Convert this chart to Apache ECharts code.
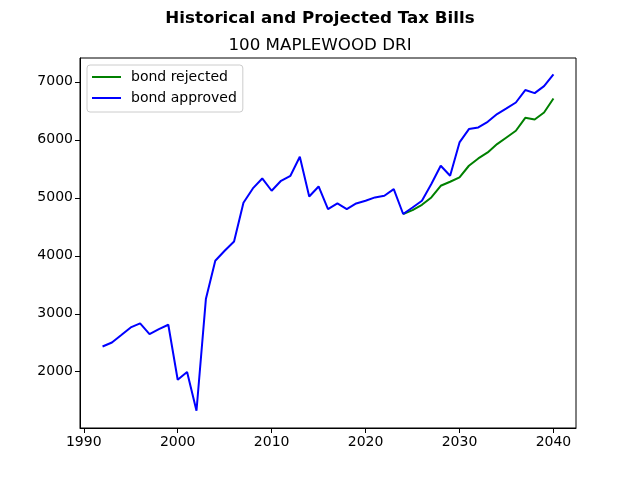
<!DOCTYPE html>
<html style="height: 100%">
<head>
<meta charset="utf-8">
<script src="https://cdn.jsdelivr.net/npm/echarts@6/dist/echarts.min.js"></script>
</head>
<body style="height: 100%; margin: 0">
<div id="container" style="width: 640px; height: 480px"></div>
<script type="text/javascript">
var approvedYears = [1992, 1993, 1994, 1995, 1996, 1997, 1998, 1999, 2000, 2001, 2002, 2003, 2004, 2005, 2006,
    2007, 2008, 2009, 2010, 2011, 2012, 2013, 2014, 2015, 2016, 2017, 2018, 2019, 2020, 2021, 2022, 2023,
    2024, 2025, 2026, 2027, 2028, 2029, 2030, 2031, 2032, 2033, 2034, 2035, 2036, 2037, 2038, 2039, 2040];
var approvedValues = [2436, 2505, 2633, 2764, 2833, 2650, 2736, 2810, 1862, 1994, 1328, 3253, 3914, 4086, 4247,
    4914, 5161, 5333, 5121, 5293, 5379, 5707, 5022, 5195, 4805, 4902, 4805, 4902, 4948, 5006, 5034, 5149,
    4720, 4833, 4948, 5236, 5552, 5379, 5954, 6184, 6213, 6310, 6443, 6540, 6643, 6857, 6805, 6925, 7126];
var rejectedYears = [2024, 2025, 2026, 2027, 2028, 2029, 2030, 2031, 2032, 2033, 2034, 2035, 2036, 2037, 2038, 2039, 2040];
var rejectedValues = [4720, 4788, 4879, 5006, 5207, 5276, 5351, 5552, 5678, 5782, 5925, 6040, 6155, 6379, 6350, 6471, 6712];
var xTicks = [1990, 2000, 2010, 2020, 2030, 2040];
var yTicks = [2000, 3000, 4000, 5000, 6000, 7000];

function pairs(xs, ys) {
    return xs.map(function (x, i) { return [x, ys[i]]; });
}

var dom = document.getElementById("container");
var myChart = echarts.init(dom);
var font = 'DejaVu Sans';
var plain = function (v) { return String(v); };
var option = {
    backgroundColor: '#fff',
    animation: false,
    title: [{
        text: 'Historical and Projected Tax Bills',
        left: 'center',
        top: 5,
        textStyle: { fontFamily: font, fontSize: 16.7, fontWeight: 'bold', color: '#000' }
    }, {
        text: '100 MAPLEWOOD DRI',
        left: 'center',
        top: 32,
        textStyle: { fontFamily: font, fontSize: 16.7, fontWeight: 'normal', color: '#000' }
    }],
    legend: {
        orient: 'vertical',
        left: 87,
        top: 65,
        padding: [4, 6, 6, 5],
        itemGap: 5,
        itemWidth: 29,
        itemHeight: 2,
        icon: 'rect',
        backgroundColor: '#fff',
        borderColor: '#ccc',
        borderWidth: 1,
        borderRadius: 3,
        textStyle: { fontFamily: font, fontSize: 14, color: '#000', lineHeight: 16, padding: [0, 0, 0, 5] },
        data: ['bond rejected', 'bond approved']
    },
    grid: {
        left: 80, right: 64, top: 58, bottom: 52,
        show: true, borderColor: '#000', borderWidth: 1
    },
    xAxis: {
        type: 'value',
        min: 1989.6,
        max: 2042.4,
        splitLine: { show: false },
        axisLine: { show: true, lineStyle: { color: '#000' } },
        axisTick: { show: true, length: 5, lineStyle: { color: '#000' }, customValues: xTicks },
        axisLabel: { fontFamily: font, fontSize: 14, color: '#000', margin: 7, formatter: plain, customValues: xTicks }
    },
    yAxis: {
        type: 'value',
        min: 1030,
        max: 7410,
        splitLine: { show: false },
        axisLine: { show: true, lineStyle: { color: '#000' } },
        axisTick: { show: true, length: 5, lineStyle: { color: '#000' }, customValues: yTicks },
        axisLabel: { fontFamily: font, fontSize: 14, color: '#000', margin: 7, formatter: plain, customValues: yTicks }
    },
    series: [{
        name: 'bond rejected',
        type: 'line',
        showSymbol: false,
        symbol: 'none',
        color: '#008000',
        lineStyle: { width: 2, color: '#008000' },
        data: pairs(rejectedYears, rejectedValues)
    }, {
        name: 'bond approved',
        type: 'line',
        showSymbol: false,
        symbol: 'none',
        color: '#0000ff',
        lineStyle: { width: 2, color: '#0000ff' },
        data: pairs(approvedYears, approvedValues)
    }]
};
myChart.setOption(option, true);
</script>
</body>
</html>
